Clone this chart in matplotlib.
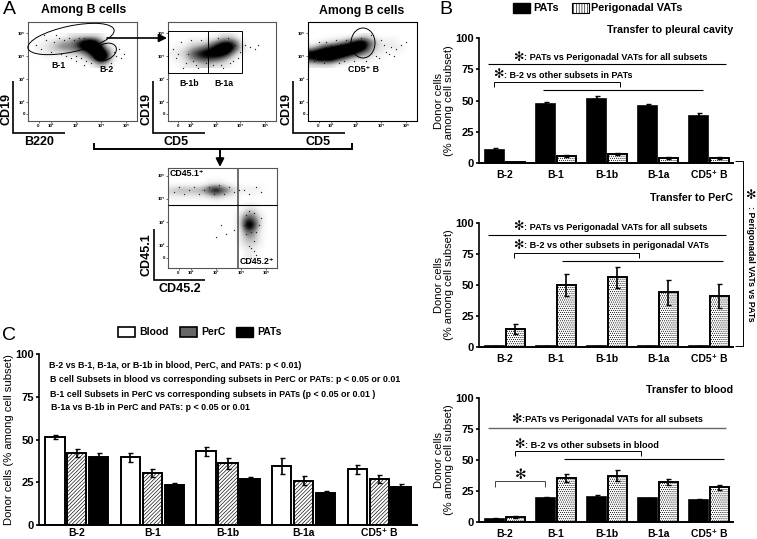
import matplotlib
matplotlib.use("Agg")
import matplotlib.pyplot as plt
from matplotlib.patches import Ellipse, Rectangle

plt.rcParams['font.family'] = ['Liberation Sans', 'DejaVu Sans']
plt.rcParams['font.weight'] = 'bold'
plt.rcParams['hatch.linewidth'] = 0.45

W, H = 757, 539
subsets = ["B-2", "B-1", "B-1b", "B-1a", "CD5⁺ B"]

# panel B values
pleural_pats = [10.5, 47, 51, 46, 37.5]
pleural_pats_err = [1.5, 1.5, 2.5, 1.5, 2.5]
pleural_vats = [0.8, 5.5, 7, 4, 4]
pleural_vats_err = [0, 0.6, 0.7, 0.6, 0.6]
perc_pats = [0.8, 0.8, 0.8, 0.8, 0.8]
perc_pats_err = [0, 0, 0, 0, 0]
perc_vats = [14.5, 50, 56, 44, 41]
perc_vats_err = [4, 9, 8.5, 10, 10]
blood_pats = [2.5, 19.5, 20.5, 19, 17.5]
blood_pats_err = [0.5, 0.7, 1, 0.7, 0.8]
blood_vats = [4, 35.5, 37.5, 32.5, 28]
blood_vats_err = [0.5, 3, 4.5, 2.5, 2]

# panel C values
c_blood = [51.5, 39.5, 43, 34.5, 32.5]
c_blood_err = [1, 2.5, 2.5, 4.5, 2.5]
c_perc = [42, 30.5, 36, 26, 27]
c_perc_err = [2.5, 2.5, 3, 2.5, 2.5]
c_pats = [39.5, 23.5, 27, 19, 22]
c_pats_err = [2.5, 1, 1, 1, 2]

# flow plots: darkness read by eye, 0.25 decade cells, top row first
p1_grid = [[0, 0, 0, 0, 0, 0, 1, 1, 1, 1, 1, 1, 0, 0, 0, 0],
           [0, 0, 1, 1, 2, 3, 3, 5, 7, 9, 8, 4, 1, 0, 0, 0],
           [0, 1, 1, 2, 3, 4, 4, 5, 7, 9, 9, 8, 2, 1, 0, 0],
           [0, 0, 1, 1, 1, 1, 2, 2, 3, 5, 9, 9, 7, 1, 0, 0],
           [0, 0, 0, 0, 0, 0, 0, 0, 1, 2, 5, 9, 6, 1, 0, 0],
           [0, 0, 0, 0, 0, 0, 0, 0, 0, 0, 1, 2, 1, 0, 0, 0]]
p2_grid = [[0, 0, 0, 0, 0, 0, 0, 0, 1, 1, 1, 0, 0, 0, 0, 0],
           [0, 0, 0, 1, 1, 1, 2, 3, 5, 6, 5, 2, 0, 0, 0, 0],
           [0, 1, 1, 2, 3, 4, 5, 7, 9, 9, 7, 3, 1, 0, 0, 0],
           [1, 1, 2, 4, 6, 7, 8, 8, 8, 7, 3, 1, 0, 0, 0, 0],
           [0, 1, 1, 3, 4, 5, 5, 5, 4, 2, 1, 0, 0, 0, 0, 0],
           [0, 0, 1, 1, 1, 2, 2, 1, 1, 1, 0, 0, 0, 0, 0, 0]]
p3_grid = [[0, 0, 0, 0, 0, 0, 0, 0, 1, 1, 0, 0, 0, 0, 0, 0],
           [0, 0, 1, 1, 2, 3, 5, 7, 8, 5, 3, 1, 1, 1, 0, 0],
           [2, 4, 6, 7, 8, 9, 9, 9, 8, 5, 2, 1, 1, 1, 1, 0],
           [8, 9, 9, 9, 9, 9, 8, 6, 4, 3, 1, 1, 0, 0, 0, 0],
           [6, 8, 8, 8, 6, 4, 2, 1, 1, 1, 0, 0, 0, 0, 0, 0],
           [1, 1, 1, 1, 0, 0, 0, 0, 0, 0, 0, 0, 0, 0, 0, 0]]
p4_grid = [[0, 0, 0, 0, 0, 0, 0, 0, 0, 0, 0, 0, 0, 0, 0, 0],
           [0, 0, 0, 0, 0, 0, 1, 1, 1, 0, 0, 0, 0, 0, 0, 0],
           [2, 3, 3, 3, 3, 4, 6, 8, 6, 4, 2, 1, 1, 1, 1, 0],
           [1, 1, 1, 1, 1, 1, 2, 3, 2, 1, 1, 0, 0, 0, 0, 0],
           [0, 0, 0, 0, 0, 0, 0, 0, 0, 0, 0, 0, 0, 0, 0, 0],
           [0, 0, 0, 0, 0, 0, 0, 0, 0, 0, 0, 0, 1, 1, 0, 0],
           [0, 0, 0, 0, 0, 0, 0, 0, 0, 0, 0, 1, 3, 3, 1, 0],
           [0, 0, 0, 0, 0, 0, 0, 0, 0, 0, 0, 2, 6, 5, 2, 0],
           [0, 0, 0, 0, 0, 0, 0, 0, 0, 0, 0, 2, 8, 7, 2, 0],
           [0, 0, 0, 0, 0, 0, 0, 0, 0, 0, 0, 1, 5, 4, 1, 0],
           [0, 0, 0, 0, 0, 0, 0, 0, 0, 0, 0, 1, 3, 3, 1, 0],
           [0, 0, 0, 0, 0, 0, 0, 0, 0, 0, 0, 1, 2, 2, 1, 0],
           [0, 0, 0, 0, 0, 0, 0, 0, 0, 0, 0, 0, 1, 1, 0, 0],
           [0, 0, 0, 0, 0, 0, 0, 0, 0, 0, 0, 0, 1, 1, 0, 0]]

# stray events around the clouds
p1_dots_x = [1.4, 1.6, 1.8, 2.0, 2.1, 2.3, 2.4, 2.5, 2.7, 2.8, 2.9, 3.0, 3.1, 3.2, 3.3, 3.4, 4.5, 4.6, 4.7, 4.8, 4.4, 1.7, 2.2, 2.6, 3.0, 3.4, 3.6, 3.3, 4.9]
p1_dots_y = [4.5, 4.3, 4.7, 4.2, 4.6, 4.8, 4.1, 4.7, 4.8, 3.9, 4.7, 4.0, 4.8, 3.9, 4.8, 3.8, 4.2, 4.0, 4.3, 3.9, 3.7, 4.9, 4.9, 4.0, 3.8, 4.7, 3.7, 3.6, 4.1]
p2_dots_x = [1.3, 1.4, 1.6, 1.8, 2.0, 2.2, 2.4, 1.5, 1.9, 2.3, 2.6, 2.9, 3.2, 3.6, 3.8, 3.9, 4.0, 4.2, 4.4, 4.6, 4.7, 1.7, 2.1, 2.7, 3.1, 3.5, 3.3, 3.7]
p2_dots_y = [4.3, 3.9, 4.6, 3.7, 4.7, 3.6, 4.7, 4.1, 4.1, 3.5, 3.7, 3.6, 3.6, 3.7, 4.5, 3.9, 4.2, 4.5, 4.4, 4.3, 4.5, 3.5, 3.8, 4.8, 4.8, 4.8, 3.5, 3.8]
p3_dots_x = [1.3, 1.5, 1.7, 2.0, 2.3, 2.6, 1.4, 2.9, 3.2, 3.4, 3.6, 3.9, 4.1, 4.2, 4.4, 4.6, 4.8, 5.0, 3.8, 4.0, 4.3, 4.5, 2.2, 2.5, 1.8]
p3_dots_y = [3.8, 4.6, 3.7, 4.5, 3.7, 4.7, 3.9, 3.8, 4.8, 3.8, 4.9, 3.9, 4.5, 4.2, 4.4, 4.3, 4.5, 4.6, 4.0, 4.7, 4.1, 4.0, 4.7, 3.8, 4.6]
p4_dots_x = [1.3, 1.5, 1.7, 1.9, 2.1, 2.3, 2.5, 2.7, 2.9, 3.1, 3.3, 3.5, 3.7, 3.9, 4.1, 4.3, 4.6, 4.8, 3.0, 3.4, 4.3, 4.5, 4.2, 4.4, 4.3, 4.5, 4.6, 4.2, 4.7, 4.4, 4.1, 4.8, 4.3, 4.5, 4.4, 4.6, 3.2, 3.7]
p4_dots_y = [4.3, 4.5, 4.2, 4.4, 4.5, 4.2, 4.4, 4.5, 4.2, 4.6, 4.2, 4.5, 4.3, 4.4, 4.4, 4.2, 4.5, 4.3, 2.4, 2.5, 2.0, 1.8, 2.5, 1.5, 1.3, 2.2, 1.6, 3.3, 2.9, 2.6, 2.9, 3.2, 3.5, 3.4, 1.9, 2.6, 2.9, 2.7]

fig = plt.figure(figsize=(W / 100, H / 100), dpi=100, facecolor="white")


def axes_px(x0, y0, x1, y1):
    return fig.add_axes([x0 / W, 1 - y1 / H, (x1 - x0) / W, (y1 - y0) / H])


def bars_b(y100, y0, a, a_err, b, b_err):
    ax = axes_px(479, y100, 733, y0)
    pos = range(5)
    ax.bar([p - 0.2 for p in pos], a, 0.37, color="black", edgecolor="black", linewidth=1.2)
    ax.bar([p + 0.2 for p in pos], b, 0.37, color="white", edgecolor="black", linewidth=1.4, hatch="........")
    ax.errorbar([p - 0.2 for p in pos], a, yerr=a_err, fmt="none", ecolor="black", elinewidth=1.2, capsize=1.8, capthick=1)
    ax.errorbar([p + 0.2 for p in pos], b, yerr=b_err, fmt="none", ecolor="black", elinewidth=1.2, capsize=1.8, capthick=1)
    ax.set_xlim(-0.51, 4.47)
    ax.set_ylim(0, 100)
    ax.set_yticks([0, 25, 50, 75, 100])
    ax.set_xticks(list(pos))
    ax.set_xticklabels(subsets)
    ax.tick_params(axis="x", length=0, labelsize=7.5, pad=5)
    ax.tick_params(axis="y", length=2.5, width=1.2, labelsize=8, pad=1)
    ax.set_ylabel("Donor cells\n(% among cell subset)", fontsize=8, labelpad=1, linespacing=1.0)
    for s in ["top", "right"]:
        ax.spines[s].set_visible(False)
    ax.spines["left"].set_linewidth(1.2)
    ax.spines["bottom"].set_linewidth(1.4)
    ax.patch.set_alpha(0)
    return ax


bars_b(38, 163, pleural_pats, pleural_pats_err, pleural_vats, pleural_vats_err)
bars_b(222.7, 347, perc_pats, perc_pats_err, perc_vats, perc_vats_err)
bars_b(398, 522, blood_pats, blood_pats_err, blood_vats, blood_vats_err)

# panel C
axc = axes_px(39, 354, 417, 525)
offs = 0.29
for i, (vals, errs, col, hat) in enumerate([(c_blood, c_blood_err, "white", None),
                                            (c_perc, c_perc_err, "white", "/////////"),
                                            (c_pats, c_pats_err, "black", None)]):
    xs = [p + (i - 1) * offs for p in range(5)]
    axc.bar(xs, vals, 0.255, color=col, edgecolor="black", linewidth=1.4, hatch=hat)
    axc.errorbar(xs, vals, yerr=errs, fmt="none", ecolor="black", elinewidth=1.2, capsize=1.8, capthick=1)
axc.set_xlim(-0.5, 4.5)
axc.set_ylim(0, 100)
axc.set_yticks([0, 25, 50, 75, 100])
axc.set_xticks(range(5))
axc.set_xticklabels(subsets)
axc.tick_params(axis="x", length=0, labelsize=7.5, pad=2)
axc.tick_params(axis="y", length=2.5, width=1.2, labelsize=8, pad=1)
axc.set_ylabel("Donor cells (% among cell subset)", fontsize=8.1, labelpad=1)
for s in ["top", "right"]:
    axc.spines[s].set_visible(False)
axc.spines["left"].set_linewidth(1.2)
axc.spines["bottom"].set_linewidth(1.4)
axc.patch.set_alpha(0)


def flow(x0, y0, x1, y1, grid, dx, dy, ybottom=3.5, ylim=(1.19, 5.48), edge="#555555"):
    ax = axes_px(x0, y0, x1, y1)
    ax.imshow(grid, cmap="Greys", vmin=0, vmax=6.5, aspect="auto", interpolation="bicubic",
              extent=(1.1, 5.1, ybottom, 5.0))
    ax.scatter(dx, dy, s=0.9, color="#222222", linewidths=0)
    ax.set_xlim(1.08, 5.44)
    ax.set_ylim(*ylim)
    ax.set_xticks([1.5, 2, 3, 4, 5])
    ax.set_xticklabels(["0", "10²", "10³", "10⁴", "10⁵"])
    ax.set_yticks([1.5, 2, 3, 4, 5])
    ax.set_yticklabels(["0", "10²", "10³", "10⁴", "10⁵"])
    ax.tick_params(length=1.2, width=0.4, labelsize=3.2, pad=1)
    for s in ax.spines.values():
        s.set_linewidth(0.8)
        s.set_edgecolor(edge)
    return ax


flow(28, 22, 137, 121, p1_grid, p1_dots_x, p1_dots_y)
flow(168, 22, 276, 121, p2_grid, p2_dots_x, p2_dots_y)
flow(308, 22, 417, 121, p3_grid, p3_dots_x, p3_dots_y, edge="black")
flow(168, 168, 277, 268, p4_grid, p4_dots_x, p4_dots_y, ybottom=1.5, ylim=(1.06, 5.32))

# everything drawn on top of the panels, in pixels
ov = fig.add_axes([0, 0, 1, 1], zorder=10)
ov.set_xlim(0, W)
ov.set_ylim(H, 0)
ov.axis("off")


def line(xs, ys, lw=1.0, color="black"):
    ov.plot(xs, ys, color=color, lw=lw, solid_capstyle="butt", solid_joinstyle="miter")


def txt(x, y, s, size=7, ha="left", **kw):
    ov.text(x, y, s, fontsize=size, ha=ha, va="center", **kw)


for letter, lx, ly in [("A", 9, 10), ("B", 446, 10), ("C", 9, 336)]:
    txt(lx, ly, letter, size=14, ha="center", fontweight="normal")

# panel A
txt(84, 10, "Among B cells", size=8.8, ha="center")
txt(362, 11, "Among B cells", size=8.8, ha="center")
for cx, cy, w, h, a in [(71, 39, 88, 26, -12), (105, 52, 24, 16, -25), (363, 43, 24, 30, 0)]:
    ov.add_patch(Ellipse((cx, cy), w, h, angle=a, fill=False, ec="black", lw=0.7))
ov.add_patch(Rectangle((168, 31), 74, 42, fill=False, ec="black", lw=0.7))
line([208, 208], [31, 73], 0.7)
line([238, 238], [168, 268], 1.2, "#555555")
line([168, 277], [205, 205], 0.8)
for lx, ly0, ly1, lx1 in [(13, 81, 133, 65), (153, 81, 133, 205), (293, 81, 133, 345), (154, 229, 280, 205)]:
    line([lx, lx, lx1], [ly0, ly1, ly1], 1.2)
for lx, ly, s in [(7, 109, "CD19"), (147, 109, "CD19"), (287, 109, "CD19"), (147, 255, "CD45.1")]:
    txt(lx, ly, s, size=9, ha="center", rotation=90)
for lx, ly, s in [(39, 142, "B220"), (176, 142, "CD5"), (318, 142, "CD5"), (180, 289, "CD45.2")]:
    txt(lx, ly, s, size=9, ha="center")
for lx, ly, s in [(59, 66, "B-1"), (107, 69, "B-2"), (189, 83, "B-1b"), (224, 84, "B-1a"), (363, 69, "CD5⁺ B")]:
    txt(lx, ly, s, size=6.3, ha="center")
txt(170, 174, "CD45.1⁺", size=6.3)
txt(240, 262, "CD45.2⁺", size=6.3)
line([94, 94, 352, 352], [143, 149, 149, 143], 1.4)
ov.annotate("", xy=(220, 167), xytext=(220, 149), arrowprops=dict(arrowstyle="-|>", color="black", lw=1.4, mutation_scale=12, shrinkA=0, shrinkB=0))
ov.annotate("", xy=(167, 38), xytext=(107, 38), arrowprops=dict(arrowstyle="-|>", color="black", lw=1.2, mutation_scale=12, shrinkA=0, shrinkB=0))

# panel B legend and notes
ov.add_patch(Rectangle((513, 3), 17, 10, fc="black", ec="black"))
txt(533, 8, "PATs", size=7.8)
ov.add_patch(Rectangle((572, 3), 17, 10, fc="white", ec="black", hatch="||||||", lw=0.8))
txt(591, 8, "Perigonadal VATs", size=7.8)
txt(733, 30, "Transfer to pleural cavity", size=7.7, ha="right")
txt(733, 198, "Transfer to PerC", size=7.7, ha="right")
txt(733, 390, "Transfer to blood", size=7.7, ha="right")

txt(513, 58, "✻", size=9)
txt(524, 58, ": PATs vs Perigonadal VATs for all subsets", size=6.6)
line([488, 726], [64, 64], 0.8)
txt(493, 75, "✻", size=9)
txt(504, 75, ": B-2 vs other subsets in PATs", size=6.5)
line([494, 494, 620, 620], [87, 81.5, 81.5, 87], 0.7)
line([543, 703], [90, 90], 0.8)

txt(513, 227, "✻", size=9)
txt(524, 227, ": PATs vs Perigonadal VATs for all subsets", size=6.6)
line([488, 726], [235, 235], 0.8)
txt(513, 246, "✻", size=9)
txt(524, 246, ": B-2 vs other subsets in perigonadal VATs", size=6.6)
line([514, 514, 639, 639], [258, 253, 253, 258], 0.7)
line([562, 723], [261, 261], 0.8)

txt(511, 420, "✻", size=9)
txt(522, 420, ":PATs vs Perigonadal VATs for all subsets", size=6.6)
line([488, 726], [428, 428], 1.0, "#666666")
txt(514, 445, "✻", size=9)
txt(525, 445, ": B-2 vs other subsets in blood", size=6.6)
line([515, 515, 641, 641], [456, 451, 451, 456], 0.7)
line([564, 724], [459, 459], 0.8)
txt(521, 475, "✻", size=10, ha="center")
line([495, 495, 545, 545], [487, 481, 481, 487], 0.7, "#444444")

line([735, 743, 743, 735], [160.5, 160.5, 346, 346], 0.7)
txt(750, 196, "✻", size=9, ha="center")
txt(751, 264, ": Perigonadal VATs vs PATs", size=6.4, ha="center", rotation=-90)

# panel C legend and notes
ov.add_patch(Rectangle((118, 327), 17, 10, fc="white", ec="black", lw=1.2))
txt(139, 332, "Blood", size=7.5)
ov.add_patch(Rectangle((180, 327), 17, 10, fc="#666666", ec="black", lw=1.2))
txt(201, 332, "PerC", size=7.5)
ov.add_patch(Rectangle((236, 327), 17, 10, fc="black", ec="black"))
txt(257, 332, "PATs", size=7.5)
txt(49, 366, "B-2 vs B-1, B-1a, or B-1b in blood, PerC, and PATs: p < 0.01)", size=6.4)
txt(50, 380, "B cell Subsets in blood vs corresponding subsets in PerC or PATs: p < 0.05 or 0.01", size=6.4)
txt(50, 394.5, "B-1 cell Subsets in PerC vs corresponding subsets in PATs (p < 0.05 or 0.01 )", size=6.4)
txt(51, 408, "B-1a vs B-1b in PerC and PATs: p < 0.05 or 0.01", size=6.4)

fig.savefig("out.png", dpi=100)
